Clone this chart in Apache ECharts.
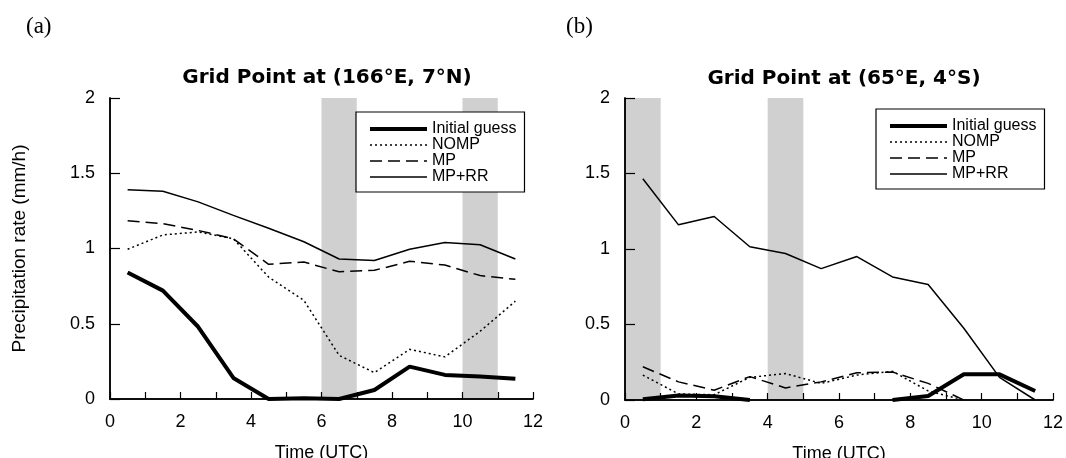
<!DOCTYPE html>
<html>
<head>
<meta charset="utf-8">
<script src="https://cdn.jsdelivr.net/npm/echarts@6/dist/echarts.min.js"></script>
<style>
  html, body { margin: 0; padding: 0; background: #fff; }
  #chart { width: 1066px; height: 458px; }
</style>
</head>
<body>
<div id="chart"></div>
<script>
// time of each value (UTC hours)
var timeUTC = [0.5, 1.5, 2.5, 3.5, 4.5, 5.5, 6.5, 7.5, 8.5, 9.5, 10.5, 11.5];

// (a) grid point 166E, 7N
var aInitial = [0.84, 0.72, 0.48, 0.14, 0, 0.005, 0, 0.06, 0.215, 0.16, 0.15, 0.135];
var aNomp    = [0.995, 1.09, 1.11, 1.065, 0.81, 0.655, 0.29, 0.175, 0.33, 0.28, 0.45, 0.65];
var aMp      = [1.185, 1.165, 1.12, 1.065, 0.895, 0.91, 0.845, 0.855, 0.915, 0.89, 0.82, 0.795];
var aMpRR    = [1.39, 1.38, 1.31, 1.22, 1.135, 1.045, 0.93, 0.92, 0.995, 1.04, 1.025, 0.93];

// (b) grid point 65E, 4S
var bInitial = [0.005, 0.03, 0.025, 0, null, null, null, 0, 0.026, 0.17, 0.17, 0.06];
var bNomp    = [0.165, 0.04, 0.035, 0.15, 0.175, 0.11, 0.165, 0.19, 0.06, 0, null, null];
var bMp      = [0.22, 0.12, 0.065, 0.155, 0.08, 0.12, 0.18, 0.185, 0.11, 0, null, null];
var bMpRR    = [1.465, 1.16, 1.215, 1.015, 0.97, 0.87, 0.95, 0.815, 0.765, 0.475, 0.15, 0];

// shaded periods (UTC)
var aShade = [[6, 7], [10, 11]];
var bShade = [[0, 1], [4, 5]];

var seriesNames = ['Initial guess', 'NOMP', 'MP', 'MP+RR'];

var font = 'Liberation Sans';
var myChart = echarts.init(document.getElementById('chart'));

function pairs(vals) {
    var res = [];
    for (var i = 0; i < timeUTC.length; i++) {
        res.push([timeUTC[i], vals[i]]);
    }
    return res;
}

function shadeData(bands) {
    var res = [];
    for (var i = 0; i < bands.length; i++) {
        res.push([{xAxis: bands[i][0], yAxis: 0}, {xAxis: bands[i][1], yAxis: 2}]);
    }
    return res;
}

function bottomAxis(grid) {
    return {
        type: 'value', gridIndex: grid, position: 'bottom', min: 0, max: 12, interval: 1, z: 10,
        name: 'Time (UTC)', nameLocation: 'middle', nameGap: 45,
        nameTextStyle: {fontFamily: font, fontSize: 18, color: '#000'},
        axisLine: {lineStyle: {color: '#000', width: 1.5}},
        axisTick: {inside: true, length: 7, lineStyle: {color: '#000', width: 1.2}},
        axisLabel: {
            margin: 14, fontFamily: font, fontSize: 18, color: '#000',
            formatter: function (v) { return v % 2 === 0 ? String(v) : ''; }
        },
        splitLine: {show: false}
    };
}
function topAxis(grid) {
    return {
        type: 'value', gridIndex: grid, position: 'top', min: 0, max: 12, z: 10,
        axisLine: {lineStyle: {color: '#000', width: 1.5}},
        axisTick: {show: false}, axisLabel: {show: false}, splitLine: {show: false}
    };
}
function leftAxis(grid, name) {
    return {
        type: 'value', gridIndex: grid, position: 'left', min: 0, max: 2, interval: 0.5, z: 10,
        name: name, nameLocation: 'middle', nameGap: 81,
        nameTextStyle: {fontFamily: font, fontSize: 19, color: '#000'},
        axisLine: {show: true, lineStyle: {color: '#000', width: 1.5}},
        axisTick: {show: true, inside: true, length: 10, lineStyle: {color: '#000', width: 1.2}},
        axisLabel: {margin: 15, fontFamily: font, fontSize: 18, color: '#000'},
        splitLine: {show: false}
    };
}
function rightAxis(grid) {
    return {
        type: 'value', gridIndex: grid, position: 'right', min: 0, max: 2, z: 10,
        axisLine: {show: true, lineStyle: {color: '#000', width: 1.5}},
        axisTick: {show: false}, axisLabel: {show: false}, splitLine: {show: false}
    };
}

function lineSeries(name, vals, axisIdx, width, dash) {
    return {
        name: name, type: 'line', xAxisIndex: axisIdx, yAxisIndex: axisIdx,
        data: pairs(vals), symbol: 'none', showSymbol: false, z: 3,
        connectNulls: false, animation: false,
        lineStyle: {color: '#000', width: width, type: dash, cap: 'butt'},
        itemStyle: {color: '#000'}
    };
}

function panelSeries(axisIdx, init, nomp, mp, mprr, shade) {
    return [
        {
            type: 'line', xAxisIndex: axisIdx, yAxisIndex: axisIdx, data: [], z: 1, silent: true,
            markArea: {silent: true, itemStyle: {color: '#d0d0d0'}, data: shadeData(shade)}
        },
        lineSeries('Initial guess', init, axisIdx, 4, 'solid'),
        lineSeries('NOMP', nomp, axisIdx, 1.5, [2, 3]),
        lineSeries('MP', mp, axisIdx, 1.5, [12, 6]),
        lineSeries('MP+RR', mprr, axisIdx, 1.5, 'solid')
    ];
}

function legend(left, top) {
    return {
        data: seriesNames, orient: 'vertical', left: left, top: top,
        itemWidth: 57, itemHeight: 12, itemGap: 0,
        padding: [9, 8, 7, 12],
        borderColor: '#000', borderWidth: 1.2, backgroundColor: '#fff',
        selectedMode: false,
        itemStyle: {opacity: 0, color: 'rgba(0,0,0,0)', borderWidth: 0},
        lineStyle: {width: 'inherit', type: 'inherit', color: '#000'},
        textStyle: {fontFamily: font, fontSize: 16, lineHeight: 16, color: '#000'}
    };
}

var option = {
    backgroundColor: '#fff',
    animation: false,
    title: [
        {text: '(a)', left: 21, top: 10, textStyle: {fontFamily: 'Liberation Serif', fontSize: 23, fontWeight: 'normal', color: '#000'}},
        {text: '(b)', left: 561, top: 10, textStyle: {fontFamily: 'Liberation Serif', fontSize: 23, fontWeight: 'normal', color: '#000'}},
        {text: 'Grid Point at (166°E, 7°N)', left: 322, textAlign: 'center', top: 63, textStyle: {fontFamily: 'DejaVu Sans', fontSize: 20, fontWeight: 'bold', color: '#000'}},
        {text: 'Grid Point at (65°E, 4°S)', left: 839, textAlign: 'center', top: 64, textStyle: {fontFamily: 'DejaVu Sans', fontSize: 20, fontWeight: 'bold', color: '#000'}}
    ],
    legend: [legend(356, 112), legend(876, 109)],
    grid: [
        {left: 110, top: 98, width: 423, height: 301, outerBoundsMode: 'none', containLabel: false},
        {left: 625, top: 98, width: 428, height: 302, outerBoundsMode: 'none', containLabel: false}
    ],
    xAxis: [bottomAxis(0), topAxis(0), bottomAxis(1), topAxis(1)],
    yAxis: [leftAxis(0, 'Precipitation rate (mm/h)'), rightAxis(0), leftAxis(1, ''), rightAxis(1)],
    series: []
};
// axis indices: 0 = left panel, 2 = right panel
option.series = panelSeries(0, aInitial, aNomp, aMp, aMpRR, aShade)
    .concat(panelSeries(2, bInitial, bNomp, bMp, bMpRR, bShade));

myChart.setOption(option, true);
window.onresize = myChart.resize;
</script>
</body>
</html>
